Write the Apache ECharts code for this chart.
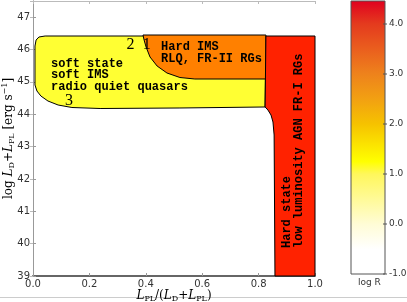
<!DOCTYPE html>
<html>
<head>
<meta charset="utf-8">
<script src="https://cdn.jsdelivr.net/npm/echarts@6/dist/echarts.min.js"></script>
<style>html,body{margin:0;padding:0;background:#fff;}#c{width:407px;height:302px;}</style>
</head>
<body>
<div id="c"></div>
<script>
// ---- data (data coordinates) ----
const xTicks = [0, 0.2, 0.4, 0.6, 0.8, 1.0];
const yTicks = [39, 40, 41, 42, 43, 44, 45, 46, 47];
const cbTicks = [-1, 0, 1, 2, 3, 4];

// soft state region (yellow)
const softRegion = [[0.043,46.418],[0.021,46.387],[0.011,46.294],[0.007,46.109],[0.007,44.904],[0.014,44.718],[0.028,44.563],[0.053,44.409],[0.089,44.285],[0.138,44.208],[0.238,44.177],[0.521,44.193],[0.823,44.224],[0.826,46.418]];
// hard IMS region (orange)
const hardImsRegion = [[0.390,46.449],[0.826,46.449],[0.826,45.089],[0.574,45.089],[0.521,45.135],[0.475,45.275],[0.440,45.491],[0.415,45.769],[0.401,46.078],[0.394,46.294]];
// hard state region (red)
const hardStateRegion = [[0.826,46.418],[1.0,46.418],[1.0,39.0],[0.858,39.0],[0.855,43.358],[0.851,43.760],[0.844,43.976],[0.833,44.131],[0.823,44.224]];
const regionColors = ['#ffff33', '#ff8000', '#ff2200'];

// annotations
const annoText = ['soft state\nsoft IMS\nradio quiet quasars', 'Hard IMS\nRLQ, FR-II RGs', 'Hard state\nlow luminosity AGN FR-I RGs'];
const annoPos = [[0.064,45.213],[0.454,45.90],[0.922,39.865]];
const annoRot = [0, 0, 90];
const numText = ['2', '1', '3'];
const numPos = [[0.346,46.14],[0.403,46.14],[0.128,44.409]];

// colormap for log R
const cmapVals = [-1, -0.5, 0, 0.5, 1, 1.25, 2, 2.5, 3, 3.5, 4, 4.46];
const cmapCols = ['#ffffff','#ffffff','#fffcd6','#fffa98','#fff75c','#ffff00','#f6c200','#f2a012','#ee821c','#ea5e1e','#e43a1e','#e0001f'];
const cbMin = -1, cbMax = 4.46;

const chart = echarts.init(document.getElementById('c'), null, {renderer:'canvas'});

function polySeries(pts, color, z){
  return {
    type:'custom', xAxisIndex:0, yAxisIndex:0, z:z, silent:true,
    data:[[pts[0][0], pts[0][1]]],
    renderItem:function(params, api){
      return {type:'polygon', shape:{points: pts.map(function(p){return api.coord(p);})},
        style:{fill:color, stroke:'#000', lineWidth:1}};
    }
  };
}

const tickFont = {fontFamily:'DejaVu Sans', fontSize:10, color:'#333'};
const serif = 'DejaVu Serif';

const stops = cmapVals.map(function(v,i){return {offset:(cbMax - v)/(cbMax - cbMin), color:cmapCols[i]};}).sort(function(a,b){return a.offset-b.offset;});

const option = {
  animation:false,
  backgroundColor:'#fff',
  grid:[
    {left:33, top:1, width:282, height:275, containLabel:false, outerBoundsMode:'none'},
    {left:351, top:1, width:34, height:273, containLabel:false, outerBoundsMode:'none'}
  ],
  xAxis:[
    {type:'value', gridIndex:0, min:0, max:1, interval:0.2, position:'bottom',
     axisLine:{lineStyle:{color:'#666', width:2}},
     axisTick:{inside:true, length:3, lineStyle:{color:'#999'}},
     axisLabel:Object.assign({margin:3, formatter:function(v){return v.toFixed(1);}}, tickFont),
     splitLine:{show:false},
     name:'{i|L}{s|PL}{t|/(}{i|L}{s|D}{t|+}{i|L}{s|PL}{t|)}', nameLocation:'middle', nameGap:12, nameMoveOverlap:false,
     nameTextStyle:{rich:{
       t:{fontFamily:serif, fontSize:12, color:'#000'},
       i:{fontFamily:serif, fontStyle:'italic', fontSize:12, color:'#000'},
       s:{fontFamily:serif, fontSize:8, color:'#000', verticalAlign:'top', padding:[7,0,0,0]}
     }}},
    {type:'value', gridIndex:0, min:0, max:1, interval:0.2, position:'top',
     axisLine:{lineStyle:{color:'#bbb', width:1}},
     axisTick:{inside:true, length:3, lineStyle:{color:'#bbb'}},
     axisLabel:{show:false}, splitLine:{show:false}},
    {type:'value', gridIndex:1, min:0, max:1, show:false}
  ],
  yAxis:[
    {type:'value', gridIndex:0, min:39, max:47.5, interval:1, position:'left',
     axisLine:{lineStyle:{color:'#999', width:1}},
     axisTick:{inside:true, length:3, lineStyle:{color:'#999'}},
     axisLabel:Object.assign({margin:3, showMaxLabel:false}, tickFont),
     splitLine:{show:false},
     name:'{t|log }{i|L}{s|D}{t|+}{i|L}{s|PL}{t| [erg s}{p|−1}{t|]}', nameLocation:'middle', nameGap:17, nameMoveOverlap:false,
     nameTextStyle:{rich:{
       t:{fontFamily:serif, fontSize:12, color:'#000'},
       i:{fontFamily:serif, fontStyle:'italic', fontSize:12, color:'#000'},
       s:{fontFamily:serif, fontSize:8, color:'#000', verticalAlign:'top', padding:[7,0,0,0]},
       p:{fontFamily:serif, fontSize:8, color:'#000', verticalAlign:'top', padding:[0,0,0,0]}
     }}},
    {type:'value', gridIndex:0, min:39, max:47.5, interval:1, position:'right',
     axisLine:{lineStyle:{color:'#999', width:1}},
     axisTick:{inside:true, length:3, lineStyle:{color:'#bbb'}},
     axisLabel:{show:false}, splitLine:{show:false}},
    {type:'value', gridIndex:1, min:cbMin, max:cbMax, interval:1, position:'right', show:false}
  ],
  series:[
    polySeries(softRegion, regionColors[0], 2),
    polySeries(hardImsRegion, regionColors[1], 3),
    polySeries(hardStateRegion, regionColors[2], 4),
    {type:'custom', xAxisIndex:0, yAxisIndex:0, z:10, silent:true,
     data:annoPos.map(function(p,i){return [p[0], p[1], i];}),
     renderItem:function(params, api){
       const i = api.value(2);
       const pt = api.coord([api.value(0), api.value(1)]);
       return {type:'text', x:pt[0], y:pt[1], rotation:annoRot[i]*Math.PI/180,
         style:{text:annoText[i], fill:'#000', font:'bold 12px "Liberation Mono"', lineHeight:11.5,
           align:'left', verticalAlign:'middle'}};
     }},
    {type:'custom', xAxisIndex:0, yAxisIndex:0, z:10, silent:true,
     data:numPos.map(function(p,i){return [p[0], p[1], i];}),
     renderItem:function(params, api){
       const i = api.value(2);
       const pt = api.coord([api.value(0), api.value(1)]);
       return {type:'text', x:pt[0], y:pt[1],
         style:{text:numText[i], fill:'#000', font:'16px "Liberation Serif"', align:'center', verticalAlign:'middle'}};
     }},
    {type:'custom', xAxisIndex:2, yAxisIndex:2, z:2, silent:true,
     data:[[0, cbMin]],
     renderItem:function(params, api){
       const a = api.coord([0, cbMax]);
       const b = api.coord([1, cbMin]);
       return {type:'rect', shape:{x:a[0], y:a[1], width:b[0]-a[0], height:b[1]-a[1]},
         style:{fill:new echarts.graphic.LinearGradient(0,0,0,1, stops), stroke:'#555', lineWidth:1}};
     }},
    {type:'custom', xAxisIndex:2, yAxisIndex:2, z:5, silent:true,
     data:cbTicks.map(function(v){return [1, v];}),
     renderItem:function(params, api){
       const v = api.value(1);
       const pt = api.coord([1, v]);
       return {type:'group', children:[
         {type:'line', shape:{x1:pt[0]-2, y1:pt[1], x2:pt[0]+2, y2:pt[1]}, style:{stroke:'#555', lineWidth:1}},
         {type:'text', x:pt[0]+4, y:pt[1], style:{text:v.toFixed(1), font:'9px "DejaVu Sans"', fill:'#333', align:'left', verticalAlign:'middle'}}
       ]};
     }}
  ],
  graphic:[
    {type:'text', left:358, top:278, style:{text:'log R', font:'9px "DejaVu Sans"', fill:'#333'}},
    {type:'line', shape:{x1:0, y1:297.5, x2:407, y2:297.5}, style:{stroke:'#ccc', lineWidth:1}}
  ]
};
chart.setOption(option);
</script>
</body>
</html>
